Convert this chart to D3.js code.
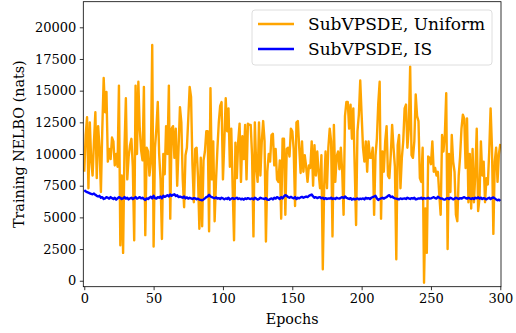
<!DOCTYPE html>
<html>
<head>
<meta charset="utf-8">
<script src="https://cdn.jsdelivr.net/npm/d3@7"></script>
<style>
  body { margin: 0; background: #fff; }
  svg text { font-family: "DejaVu Serif", serif; fill: #000; }
</style>
</head>
<body>
<div id="chart"></div>
<script>
// values, one per epoch (0..300)
const uniform = [
  8600, 11500, 12900, 7300, 12500, 9500, 8300, 11000, 13300, 8100,
  12200, 10500, 7000, 12000, 16000, 13300, 14900, 9400, 10400, 9600,
  11300, 11000, 9100, 10000, 9000, 15400, 2800, 8300, 2200, 10500,
  14400, 8000, 9800, 10700, 11200, 9000, 3200, 15400, 10000, 15700,
  12000, 10300, 9500, 15300, 3600, 10500, 10200, 8300, 9400, 18600,
  2700, 10500, 12000, 14100, 10000, 8000, 3300, 10000, 8400, 12200,
  10000, 15400, 4900, 12000, 12200, 9700, 12000, 7500, 10500, 13700,
  12500, 8000, 5800, 9900, 10500, 12800, 15300, 14500, 9200, 6200,
  10400, 10500, 8200, 4100, 9700, 4300, 9500, 10200, 11800, 11800,
  3900, 15200, 8000, 11000, 4700, 7900, 10400, 12500, 13800, 14100,
  8000, 11000, 14400, 11800, 13600, 9000, 12000, 7300, 3200, 10900,
  8100, 11000, 12400, 7800, 11400, 9600, 12300, 8000, 12400, 12300,
  12300, 9900, 3500, 12500, 9000, 7800, 12500, 8300, 11000, 12600,
  11000, 3100, 8600, 10000, 9400, 11500, 11600, 9100, 10400, 8000,
  7800, 9500, 4900, 11200, 11200, 5200, 10400, 10500, 9800, 12000,
  11800, 10400, 5900, 12500, 12600, 10500, 8500, 11000, 8600, 9900,
  9000, 7800, 9100, 8900, 11000, 7500, 10700, 8300, 10200, 8500,
  7300, 9900, 900, 7500, 10200, 7300, 10500, 12000, 11000, 3500,
  12300, 7800, 9800, 10200, 8800, 10500, 8600, 5200, 13000, 14100,
  14100, 12000, 13900, 11200, 13600, 9000, 4400, 11800, 13100, 15800,
  13100, 10500, 9400, 11000, 8600, 11000, 9700, 9700, 10500, 5200,
  9900, 11200, 14000, 15700, 4900, 10200, 8600, 11000, 12200, 8300,
  8100, 9900, 12300, 10500, 9000, 1700, 10700, 11500, 7300, 9700,
  11000, 13600, 13900, 10500, 12000, 16900, 9900, 9700, 11000, 14700,
  13000, 12600, 8100, 7800, 10500, -150, 5700, 2200, 9800, 9700,
  9200, 11000, 8600, 8900, 8300, 8600, 6800, 5200, 11500, 10200,
  11500, 14800, 2500, 10000, 7000, 11500, 9400, 8600, 5200, 4700,
  8300, 9800, 12000, 13100, 12800, 8900, 12800, 6200, 10000, 5700,
  10400, 6200, 8500, 12000, 5500, 6500, 11000, 8300, 9400, 6200,
  8100, 7600, 10200, 13600, 10500, 3700, 9400, 10500, 7800, 10000,
  10800
];
const importance = [
  7150, 7050, 7000, 6950, 6900, 6850, 6820, 6880, 6780, 6700,
  6650, 6700, 6550, 6600, 6450, 6500, 6600, 6550, 6480, 6600,
  6520, 6450, 6550, 6400, 6500, 6600, 6550, 6450, 6500, 6600,
  6480, 6550, 6420, 6500, 6550, 6450, 6520, 6600, 6480, 6530,
  6600, 6500, 6550, 6450, 6380, 6500, 6450, 6550, 6620, 6500,
  6700, 6520, 6480, 6600, 6550, 6650, 6500, 6700, 6620, 6680,
  6750, 6650, 6800, 6700, 6780, 6820, 6680, 6750, 6600, 6650,
  6600, 6550, 6650, 6500, 6580, 6480, 6550, 6500, 6450, 6520,
  6500, 6430, 6480, 6400, 6380, 6350, 6420, 6500, 6600, 6650,
  6780, 6650, 6600, 6550, 6500, 6580, 6480, 6520, 6450, 6550,
  6500, 6420, 6500, 6450, 6550, 6400, 6480, 6520, 6450, 6500,
  6550, 6450, 6500, 6420, 6480, 6400, 6500, 6450, 6520, 6470,
  6450, 6500, 6420, 6550, 6480, 6400, 6450, 6550, 6500, 6480,
  6450, 6520, 6400, 6380, 6450, 6500, 6420, 6550, 6480, 6600,
  6550, 6450, 6600, 6500, 6650, 6750, 6700, 6600, 6550, 6620,
  6550, 6500, 6600, 6450, 6550, 6500, 6580, 6620, 6550, 6600,
  6650, 6600, 6700, 6750, 6800, 6650, 6550, 6600, 6520, 6580,
  6600, 6500, 6550, 6450, 6520, 6450, 6500, 6480, 6550, 6450,
  6500, 6450, 6550, 6500, 6480, 6550, 6600, 6520, 6650, 6550,
  6500, 6450, 6520, 6400, 6480, 6420, 6450, 6500, 6420, 6480,
  6450, 6500, 6420, 6550, 6480, 6520, 6450, 6550, 6600, 6650,
  6700, 6500, 6380, 6450, 6500, 6550, 6480, 6550, 6600, 6700,
  6750, 6600, 6650, 6550, 6500, 6480, 6450, 6420, 6500, 6450,
  6480, 6500, 6450, 6550, 6500, 6450, 6520, 6480, 6550, 6420,
  6450, 6500, 6480, 6550, 6450, 6520, 6480, 6500, 6550, 6480,
  6500, 6550, 6600, 6520, 6480, 6620, 6550, 6480, 6500, 6420,
  6400, 6480, 6520, 6450, 6550, 6500, 6420, 6480, 6550, 6500,
  6450, 6520, 6480, 6550, 6600, 6520, 6480, 6550, 6500, 6450,
  6520, 6450, 6550, 6500, 6580, 6480, 6550, 6450, 6520, 6480,
  6420, 6500, 6550, 6450, 6520, 6580, 6500, 6420, 6350, 6400,
  6300
];
const seriesNames = ["SubVPSDE, Uniform", "SubVPSDE, IS"];
const seriesColors = ["orange", "blue"];
const xTicks = [0, 50, 100, 150, 200, 250, 300];
const yTicks = [0, 2500, 5000, 7500, 10000, 12500, 15000, 17500, 20000];

const width = 516, height = 333;
const margin = { top: 1.7, right: 15, bottom: 46.3, left: 83.3 };
const innerW = width - margin.left - margin.right;
const innerH = height - margin.top - margin.bottom;

const svg = d3.select("#chart").append("svg")
  .attr("width", width)
  .attr("height", height);

const g = svg.append("g")
  .attr("transform", `translate(${margin.left},${margin.top})`);

const x = d3.scaleLinear().domain([-0.7, 300.5]).range([0, innerW]);
const y = d3.scaleLinear().domain([-470, 22020]).range([innerH, 0]);

g.append("clipPath").attr("id", "clip")
  .append("rect").attr("width", innerW).attr("height", innerH);

const line = d3.line()
  .x((d, i) => x(i))
  .y(d => y(d));

[uniform, importance].forEach((s, k) => {
  g.append("path")
    .datum(s)
    .attr("clip-path", "url(#clip)")
    .attr("fill", "none")
    .attr("stroke", seriesColors[k])
    .attr("stroke-width", 2.4)
    .attr("stroke-linejoin", "round")
    .attr("d", line);
});

// axes
const xAxis = g.append("g")
  .attr("transform", `translate(0,${innerH})`)
  .call(d3.axisBottom(x).tickValues(xTicks).tickFormat(d3.format("d")).tickSize(3.5).tickPadding(3.5));
const yAxis = g.append("g")
  .call(d3.axisLeft(y).tickValues(yTicks).tickFormat(d3.format("d")).tickSize(3.5).tickPadding(3.5));

[xAxis, yAxis].forEach(a => {
  a.attr("font-family", null).attr("font-size", null);
  a.select(".domain").remove();
  a.selectAll(".tick line").attr("stroke", "#000").attr("stroke-width", 0.8);
  a.selectAll(".tick text")
    .style("font-family", "'DejaVu Serif', serif")
    .style("font-size", "13px");
});

// frame
g.append("rect")
  .attr("width", innerW)
  .attr("height", innerH)
  .attr("fill", "none")
  .attr("stroke", "#000")
  .attr("stroke-width", 0.8);

// axis labels
svg.append("text")
  .attr("x", margin.left + innerW / 2)
  .attr("y", 324)
  .attr("text-anchor", "middle")
  .style("font-size", "14.3px")
  .text("Epochs");

svg.append("text")
  .attr("transform", `translate(24,${margin.top + innerH / 2}) rotate(-90)`)
  .attr("text-anchor", "middle")
  .style("font-size", "14.3px")
  .text("Training NELBO (nats)");

// legend
const legend = svg.append("g").attr("transform", "translate(252,10)");
legend.append("rect")
  .attr("width", 240)
  .attr("height", 55)
  .attr("rx", 3)
  .attr("fill", "#fff")
  .attr("fill-opacity", 0.8)
  .attr("stroke", "#d6d6d6")
  .attr("stroke-width", 0.8);

seriesNames.forEach((name, i) => {
  const row = legend.append("g").attr("transform", `translate(0,${14 + i * 25})`);
  row.append("line")
    .attr("x1", 6).attr("x2", 42)
    .attr("stroke", seriesColors[i])
    .attr("stroke-width", 2.4);
  row.append("text")
    .attr("x", 56)
    .attr("dy", "0.35em")
    .style("font-size", "17px")
    .text(name);
});
</script>
</body>
</html>
